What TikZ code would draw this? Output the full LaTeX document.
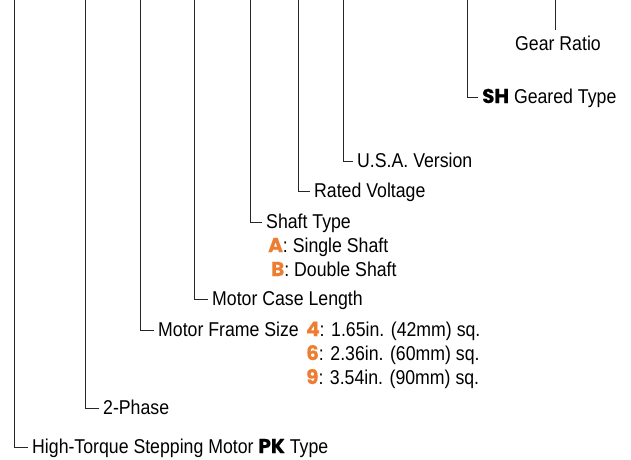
\documentclass[tikz,border=0pt]{standalone}
\usepackage{fontspec}
\setmainfont{Liberation Sans}[FakeStretch=0.885]
\newfontfamily\heavyfont{Poppins}[BoldFeatures={FakeBold=0.4}]
\definecolor{orng}{RGB}{237,125,49}
\newcommand\hv[1]{{\heavyfont\bfseries #1}}
\newcommand\ov[1]{{\heavyfont\bfseries\color{orng}#1}}
\begin{document}
\begin{tikzpicture}[x=1pt,y=-1pt,
  font=\fontsize{20}{24}\selectfont,
  lbl/.style={anchor=base west, inner sep=0pt},
  conn/.style={line width=1pt, draw=black!85}]
\useasboundingbox (0,0) rectangle (631,459);
% labels
\node[lbl] (ht) at (32,453) {High-Torque Stepping Motor \hv{PK} Type};
\node[lbl] (ph) at (103,414) {2-Phase};
\node[lbl] (fs) at (158,336) {Motor Frame Size};
\node[lbl] (f4) at (306,336) {\ov{4}: 1.65in. (42mm) sq.};
\node[lbl] (f6) at (306,360) {\ov{6}: 2.36in. (60mm) sq.};
\node[lbl] (f9) at (306,384) {\ov{9}: 3.54in. (90mm) sq.};
\node[lbl] (cl) at (212,305) {Motor Case Length};
\node[lbl] (st) at (266,228) {Shaft Type};
\node[lbl] (sa) at (268,252) {\ov{A}: Single Shaft};
\node[lbl] (sb) at (271,276) {\ov{B}: Double Shaft};
\node[lbl] (rv) at (314,197) {Rated Voltage};
\node[lbl] (us) at (357,167) {U.S.A. Version};
\node[lbl] (sh) at (482,103) {\hv{SH} Geared Type};
\node[anchor=base, inner sep=0pt] (gr) at (558,50) {Gear Ratio};
% tops
\coordinate (t1) at (14,0);
\coordinate (t2) at (85,0);
\coordinate (t3) at (140,0);
\coordinate (t4) at (194,0);
\coordinate (t5) at (250,0);
\coordinate (t6) at (298,0);
\coordinate (t7) at (343,0);
\coordinate (t8) at (467,0);
\coordinate (t9) at (555,0);
% connectors
\draw[conn] (t1) |- ([xshift=-4pt,yshift=6pt]ht.base west);
\draw[conn] (t2) |- ([xshift=-4pt,yshift=6pt]ph.base west);
\draw[conn] (t3) |- ([xshift=-4pt,yshift=6pt]fs.base west);
\draw[conn] (t4) |- ([xshift=-4pt,yshift=6pt]cl.base west);
\draw[conn] (t5) |- ([xshift=-4pt,yshift=6pt]st.base west);
\draw[conn] (t6) |- ([xshift=-4pt,yshift=6pt]rv.base west);
\draw[conn] (t7) |- ([xshift=-4pt,yshift=6pt]us.base west);
\draw[conn] (t8) |- ([xshift=-4pt,yshift=6pt]sh.base west);
\draw[conn] (t9) -- ([yshift=5pt]gr.north -| t9);
\end{tikzpicture}
\end{document}
